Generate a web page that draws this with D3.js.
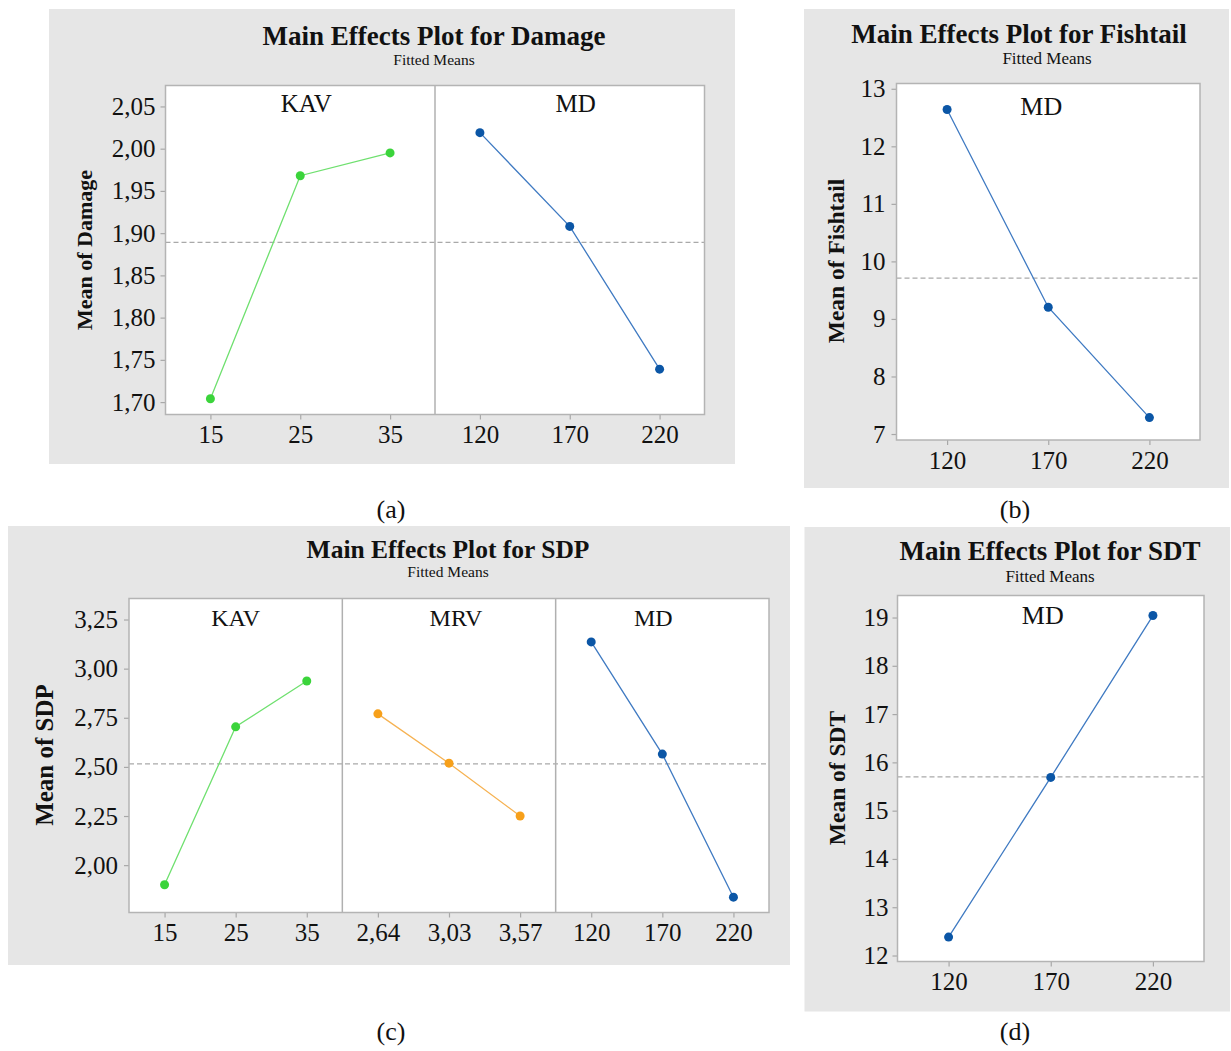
<!DOCTYPE html>
<html>
<head>
<meta charset="utf-8">
<script src="https://cdn.jsdelivr.net/npm/d3@7"></script>
<style>
  html, body { margin: 0; padding: 0; background: #ffffff; }
  svg { display: block; }
  text { font-family: "Liberation Serif", "Times New Roman", serif; fill: #111; }
</style>
</head>
<body>
<svg id="chart" width="1231" height="1051"></svg>
<script>
// ---------------- DATA ----------------
const kavLevels = ["15", "25", "35"];
const mrvLevels = ["2,64", "3,03", "3,57"];
const mdLevels  = ["120", "170", "220"];

const damageKAV = [1.704, 1.968, 1.995];
const damageMD  = [2.019, 1.908, 1.739];
const damageMean = 1.889;
const damageTicks = [1.70, 1.75, 1.80, 1.85, 1.90, 1.95, 2.00, 2.05];

const fishtailMD = [12.64, 9.204, 7.285];
const fishtailMean = 9.71;
const fishtailTicks = [7, 8, 9, 10, 11, 12, 13];

const sdpKAV = [1.900, 2.704, 2.937];
const sdpMRV = [2.770, 2.519, 2.250];
const sdpMD  = [3.136, 2.565, 1.837];
const sdpMean = 2.515;
const sdpTicks = [2.00, 2.25, 2.50, 2.75, 3.00, 3.25];

const sdtMD = [12.381, 15.689, 19.041];
const sdtMean = 15.70;
const sdtTicks = [12, 13, 14, 15, 16, 17, 18, 19];

const captions = ["(a)", "(b)", "(c)", "(d)"];

// ---------------- STYLE ----------------
const COLORS = {
  green:  { marker: "#3bd43b", line: "#6fe06f" },
  orange: { marker: "#f7a01a", line: "#f6b252" },
  blue:   { marker: "#0b56a6", line: "#3f7ac2" }
};
const commaFmt = d => d3.format(".2f")(d).replace(".", ",");
const intFmt = d3.format("d");

const svg = d3.select("#chart");

function drawPanel(cfg) {
  const g = svg.append("g");
  const b = cfg.box, f = cfg.frame;
  g.append("rect").attr("x", b[0]).attr("y", b[1])
    .attr("width", b[2] - b[0]).attr("height", b[3] - b[1])
    .attr("fill", "#e6e6e6");
  g.append("rect").attr("x", f[0]).attr("y", f[1])
    .attr("width", f[2] - f[0]).attr("height", f[3] - f[1])
    .attr("fill", "#ffffff");

  const y = d3.scaleLinear().domain(cfg.yDomain).range([f[3], f[1]]);

  // Y axis
  const yAx = g.append("g").attr("transform", `translate(${f[0]},0)`)
    .call(d3.axisLeft(y).tickValues(cfg.yTicks).tickFormat(cfg.fmt)
      .tickSize(5).tickPadding(cfg.yPad || 5));
  yAx.select(".domain").remove();
  yAx.selectAll(".tick line").attr("stroke", "#a8a8a8").attr("stroke-width", 1.2);
  yAx.selectAll(".tick text").attr("fill", "#111")
    .style("font-family", '"Liberation Serif", "Times New Roman", serif')
    .style("font-size", cfg.tickSize + "px");

  const n = cfg.facets.length;
  const fw = (f[2] - f[0]) / n;

  // mean line (dashed, across whole frame)
  g.append("line")
    .attr("x1", f[0]).attr("x2", f[2])
    .attr("y1", y(cfg.mean)).attr("y2", y(cfg.mean))
    .attr("stroke", "#a9a9a9").attr("stroke-width", 1.2)
    .attr("stroke-dasharray", "5,3");

  cfg.facets.forEach((fc, i) => {
    const x = d3.scalePoint().domain(fc.levels)
      .range([f[0] + i * fw, f[0] + (i + 1) * fw]).padding(0.5);

    // X axis for this facet
    const xAx = g.append("g").attr("transform", `translate(0,${f[3]})`)
      .call(d3.axisBottom(x).tickSize(5).tickPadding(cfg.xPad || 6));
    xAx.select(".domain").remove();
    xAx.selectAll(".tick line").attr("stroke", "#a8a8a8").attr("stroke-width", 1.2);
    xAx.selectAll(".tick text").attr("fill", "#111")
      .style("font-family", '"Liberation Serif", "Times New Roman", serif')
      .style("font-size", cfg.tickSize + "px");

    // divider
    if (i > 0) {
      g.append("line")
        .attr("x1", f[0] + i * fw).attr("x2", f[0] + i * fw)
        .attr("y1", f[1]).attr("y2", f[3])
        .attr("stroke", "#b0b0b0").attr("stroke-width", 1.5);
    }

    // facet label
    g.append("text")
      .attr("x", f[0] + (i + 0.5) * fw + (fc.dx || 0))
      .attr("y", cfg.facetY)
      .attr("text-anchor", "middle")
      .style("font-size", cfg.facetSize + "px")
      .text(fc.name);

    const pts = fc.levels.map((l, k) => ({ l, v: fc.values[k] }));
    const col = COLORS[fc.color];
    g.append("path").datum(pts)
      .attr("fill", "none").attr("stroke", col.line).attr("stroke-width", 1.3)
      .attr("d", d3.line().x(d => x(d.l)).y(d => y(d.v)));
    g.selectAll(null).data(pts).enter().append("circle")
      .attr("cx", d => x(d.l)).attr("cy", d => y(d.v)).attr("r", 4.5)
      .attr("fill", col.marker);
  });

  // frame border
  g.append("rect").attr("x", f[0]).attr("y", f[1])
    .attr("width", f[2] - f[0]).attr("height", f[3] - f[1])
    .attr("fill", "none").attr("stroke", "#b4b4b4").attr("stroke-width", 1.5);

  // titles
  g.append("text").attr("x", cfg.titleX).attr("y", cfg.titleY)
    .attr("text-anchor", "middle").style("font-weight", "bold")
    .style("font-size", cfg.titleSize + "px").text(cfg.title);
  g.append("text").attr("x", cfg.titleX + (cfg.subDx || 0)).attr("y", cfg.subY)
    .attr("text-anchor", "middle")
    .style("font-size", cfg.subSize + "px").text("Fitted Means");

  // y label
  g.append("text")
    .attr("transform", `translate(${cfg.yLabel[0]},${cfg.yLabel[1]}) rotate(-90)`)
    .attr("text-anchor", "middle").attr("dominant-baseline", "central")
    .style("font-weight", "bold").style("font-size", cfg.yLabelSize + "px")
    .text(cfg.yTitle);

  // caption
  g.append("text").attr("x", cfg.caption[0]).attr("y", cfg.caption[1])
    .attr("text-anchor", "middle").style("font-size", "26px").text(cfg.captionText);
}

// (a) Damage
drawPanel({
  box: [49, 9, 735, 464], frame: [165.5, 85.5, 704.5, 414.5],
  yDomain: [1.6853, 2.0748], yTicks: damageTicks, fmt: commaFmt, mean: damageMean,
  tickSize: 25, xPad: 6,
  facets: [
    { name: "KAV", levels: kavLevels, values: damageKAV, color: "green", dx: 6 },
    { name: "MD",  levels: mdLevels,  values: damageMD,  color: "blue", dx: 6 }
  ],
  facetY: 112, facetSize: 25,
  title: "Main Effects Plot for Damage", titleX: 434, titleY: 45, titleSize: 27,
  subY: 65, subSize: 15.5,
  yTitle: "Mean of Damage", yLabel: [84, 250], yLabelSize: 22,
  caption: [391, 518], captionText: captions[0]
});

// (b) Fishtail
drawPanel({
  box: [804, 9, 1229, 488], frame: [896.5, 83.5, 1200, 440],
  yDomain: [6.896, 13.092], yTicks: fishtailTicks, fmt: intFmt, mean: fishtailMean,
  tickSize: 25, xPad: 6, yPad: 6,
  facets: [
    { name: "MD", levels: mdLevels, values: fishtailMD, color: "blue", dx: -7 }
  ],
  facetY: 115, facetSize: 26,
  title: "Main Effects Plot for Fishtail", titleX: 1019, titleY: 43, titleSize: 27,
  subY: 64, subSize: 17, subDx: 28,
  yTitle: "Mean of Fishtail", yLabel: [836, 261], yLabelSize: 23.5,
  caption: [1015, 518], captionText: captions[1]
});

// (c) SDP
drawPanel({
  box: [8, 526, 790, 965], frame: [129, 598.5, 769, 912.5],
  yDomain: [1.759, 3.357], yTicks: sdpTicks, fmt: commaFmt, mean: sdpMean,
  tickSize: 25, xPad: 6, yPad: 6,
  facets: [
    { name: "KAV", levels: kavLevels, values: sdpKAV, color: "green" },
    { name: "MRV", levels: mrvLevels, values: sdpMRV, color: "orange", dx: 7 },
    { name: "MD",  levels: mdLevels,  values: sdpMD,  color: "blue", dx: -9 }
  ],
  facetY: 626, facetSize: 24,
  title: "Main Effects Plot for SDP", titleX: 448, titleY: 558, titleSize: 25.5,
  subY: 577, subSize: 15.5,
  yTitle: "Mean of SDP", yLabel: [44, 755], yLabelSize: 25,
  caption: [391, 1040], captionText: captions[2]
});

// (d) SDT
drawPanel({
  box: [804.5, 527, 1230, 1011.5], frame: [897.5, 595.5, 1204, 961.5],
  yDomain: [11.876, 19.456], yTicks: sdtTicks, fmt: intFmt, mean: sdtMean,
  tickSize: 25, xPad: 6, yPad: 4,
  facets: [
    { name: "MD", levels: mdLevels, values: sdtMD, color: "blue", dx: -8 }
  ],
  facetY: 624, facetSize: 26,
  title: "Main Effects Plot for SDT", titleX: 1050, titleY: 560, titleSize: 27,
  subY: 582, subSize: 17,
  yTitle: "Mean of SDT", yLabel: [837, 778], yLabelSize: 23.5,
  caption: [1015, 1040], captionText: captions[3]
});
</script>
</body>
</html>
